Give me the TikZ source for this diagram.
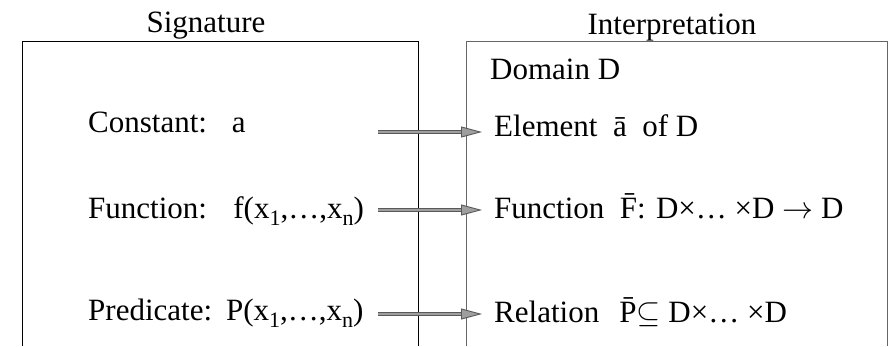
\RequirePackage{fix-cm}
\documentclass[tikz,border=0pt]{standalone}
\usepackage{fontspec}
\setmainfont{Liberation Serif}
\usetikzlibrary{arrows.meta,positioning}
\newcommand\idx[1]{\raisebox{-7pt}{\fontsize{22}{26}\selectfont #1}}

\begin{document}
\begin{tikzpicture}[x=1pt,y=1pt]
\tikzstyle{lbl}=[inner sep=0pt,anchor=base west,font=\fontsize{31}{37}\selectfont]
\tikzstyle{ttl}=[lbl,anchor=base]
\tikzstyle{maparrow}=[draw=black!65,double=gray!75,double distance=2.6pt,line width=0.9pt,
  -{Triangle[length=21pt,width=11pt,fill=gray!75]}]
\useasboundingbox (0,0) rectangle (895,346);
% the two open boxes
\draw[line width=1pt] (22,0) |- (418,304.5) -- (418,0);
\draw[line width=1pt,black!60] (466,0) |- (887.5,304.5) -- (887.5,0);
\node[ttl] (sig) at (206,313) {Signature};
\node[ttl] (int) at (672,311) {Interpretation};
\node[lbl] (dom) at (490,266) {Domain D};
% symbols
\node[lbl] (con) at (88,213) {Constant:\hspace{0.8em}a};
\node[lbl] (fun) at (88,128) {Function:\hspace{0.85em}f(x\idx{1},…,x\idx{n})};
\node[lbl] (pre) at (88,26) {Predicate:\hspace{0.45em}P(x\idx{1},…,x\idx{n})};
% their meanings
\node[lbl] (el) at (494,209) {Element\hspace{0.5em}ā\hspace{0.5em}of D};
\node[lbl] (fn) at (494,128) {Function\hspace{0.5em}\={F}: D×… ×D $\rightarrow$ D};
\node[lbl] (rel) at (494,24) {Relation\hspace{0.65em}\={P}$\subseteq$ D×… ×D};
\foreach \n/\dy in {el/5,fn/8,rel/8}
  \draw[maparrow] ([xshift=-116pt,yshift=\dy pt]\n.base west) -- ([xshift=-12pt,yshift=\dy pt]\n.base west);
\end{tikzpicture}
\end{document}
